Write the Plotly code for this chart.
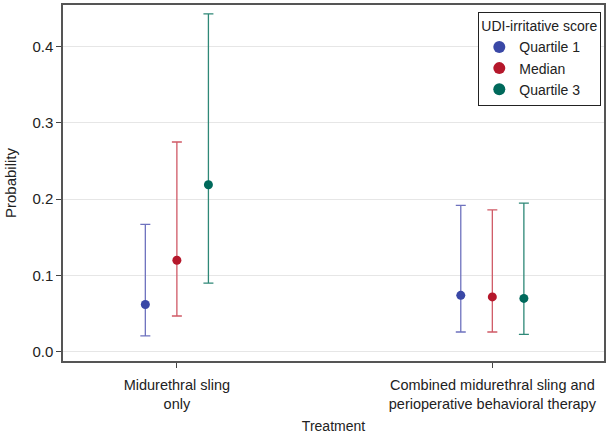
import plotly.graph_objects as go

treatments = ["Midurethral sling<br>only",
              "Combined midurethral sling and<br>perioperative behavioral therapy"]
groups = ["Quartile 1", "Median", "Quartile 3"]

# predicted probability and 95% CI per group, for each treatment
prob = {
    "Quartile 1": [0.062, 0.074],
    "Median": [0.120, 0.072],
    "Quartile 3": [0.219, 0.070],
}
upper = {
    "Quartile 1": [0.167, 0.192],
    "Median": [0.275, 0.186],
    "Quartile 3": [0.443, 0.195],
}
lower = {
    "Quartile 1": [0.021, 0.026],
    "Median": [0.047, 0.026],
    "Quartile 3": [0.090, 0.023],
}

dot_colors = {"Quartile 1": "#3A48A6", "Median": "#B5172B", "Quartile 3": "#00695B"}
bar_colors = {"Quartile 1": "#6E72BE", "Median": "#D05A66", "Quartile 3": "#2E8877"}
offsets = {"Quartile 1": -0.1, "Median": 0.0, "Quartile 3": 0.1}

fig = go.Figure()
for g in groups:
    xs = [i + offsets[g] for i in range(len(treatments))]
    fig.add_trace(go.Scatter(
        x=xs, y=prob[g], mode="markers", name=g,
        marker=dict(color=dot_colors[g], size=9),
        error_y=dict(
            type="data", symmetric=False,
            array=[u - p for u, p in zip(upper[g], prob[g])],
            arrayminus=[p - l for p, l in zip(prob[g], lower[g])],
            color=bar_colors[g], thickness=1.3, width=5,
        ),
    ))

fig.update_layout(
    width=609, height=435,
    margin=dict(l=63, r=4, t=3, b=73),
    paper_bgcolor="white", plot_bgcolor="white",
    font=dict(family="Liberation Sans, Arial, sans-serif", size=14, color="#222"),
    legend=dict(
        title=dict(text="UDI-irritative score", font=dict(size=14)),
        x=0.995, xanchor="right", y=0.98, yanchor="top",
        bordercolor="#222", borderwidth=1, bgcolor="white",
        font=dict(size=14), itemsizing="constant", tracegroupgap=0,
        entrywidth=124, entrywidthmode="pixels",
    ),
)
# y title placed by hand so it sits near the left edge as in the original
fig.add_annotation(
    text="Probability", textangle=-90, showarrow=False,
    xref="paper", yref="paper", x=0, y=0.5, xanchor="center", yanchor="middle",
    xshift=-53, font=dict(size=15),
)
fig.update_xaxes(
    range=[-0.361, 1.354], tickvals=[0, 1], ticktext=treatments,
    ticks="outside", ticklen=5, tickcolor="#444", ticklabelstandoff=5,
    showgrid=False, zeroline=False,
    showline=True, linecolor="#555", linewidth=1.5, mirror=True,
    title=dict(text="Treatment", standoff=10, font=dict(size=14)),
    tickfont=dict(size=14.5),
)
fig.update_yaxes(
    range=[-0.012, 0.4545], tickvals=[0, 0.1, 0.2, 0.3, 0.4],
    tickformat=".1f", ticks="outside", ticklen=5, tickcolor="#444",
    showgrid=True, gridcolor="#E6E6E6", gridwidth=1, zeroline=False,
    showline=True, linecolor="#555", linewidth=1.5, mirror=True,
    tickfont=dict(size=15),
)

fig.write_html("out.html", config={"displayModeBar": False},
               post_script="document.body.style.margin='0';")
